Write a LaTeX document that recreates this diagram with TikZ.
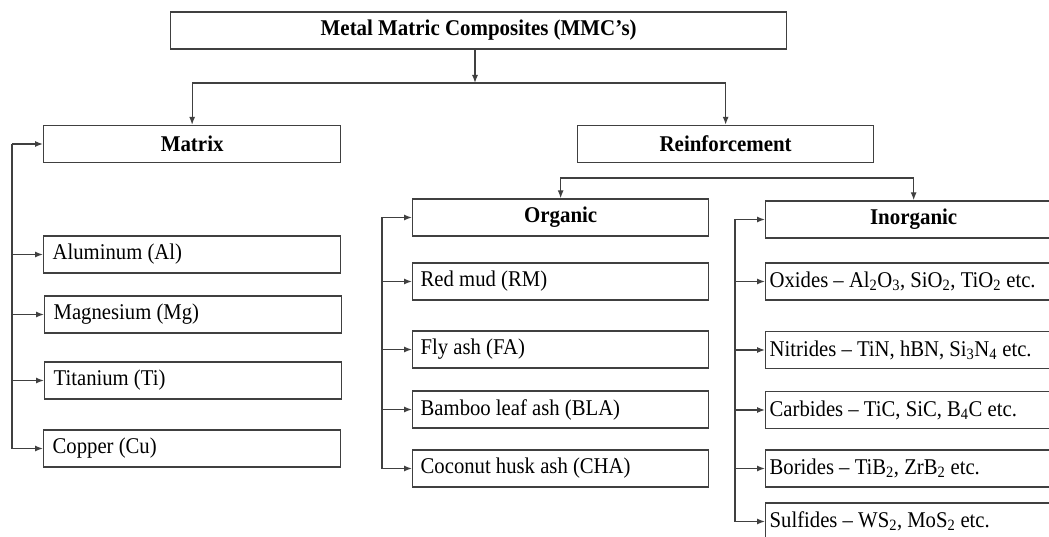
\documentclass[tikz,border=0pt]{standalone}
\usepackage{fontspec}
\setmainfont[FakeStretch=0.92, BoldFeatures={FakeStretch=0.93}]{Liberation Serif}
\usetikzlibrary{arrows.meta}
\begin{document}
\begin{tikzpicture}[x=1pt,y=-1pt,
  every node/.style={font=\fontsize{22.5}{26}\selectfont},
  box/.style={draw=black!75, line width=1.3pt, minimum height=37pt, inner sep=0pt, anchor=west},
  head/.style={box, font=\fontsize{22.5}{26}\selectfont\bfseries, minimum width=296pt},
  mitem/.style={box, minimum width=297pt, text width=279pt, align=flush left},
  oitem/.style={box, minimum width=296pt, text width=280pt, align=flush left},
  iitem/.style={box, minimum width=296pt, text width=288pt, align=flush left},
  ln/.style={draw=black!75, line width=1.3pt},
  arr/.style={ln, -{Latex[length=8pt,width=6pt]}}]
\useasboundingbox (0,0) rectangle (1049,537);
\clip (0,0) rectangle (1049,537);
% headings
\node[head, minimum width=616pt] (top) at (170,30.5) {Metal Matric Composites (MMC’s)};
\node[head, minimum width=297pt] (matrix) at (43,144) {Matrix};
\node[head] (reinf) at (577,144) {Reinforcement};
\node[head] (org) at (412,217.5) {Organic};
\node[head] (inorg) at (765,219.5) {Inorganic};
% matrix items
\node[mitem] (al) at (43,254.5) {Aluminum (Al)};
\node[mitem] (mg) at (44,314.5) {Magnesium (Mg)};
\node[mitem] (ti) at (44,380.5) {Titanium (Ti)};
\node[mitem] (cu) at (43,448.5) {Copper (Cu)};
% organic items
\node[oitem] (rm) at (412,281.5) {Red mud (RM)};
\node[oitem] (fa) at (412,349.5) {Fly ash (FA)};
\node[oitem] (bla) at (412,409.5) {Bamboo leaf ash (BLA)};
\node[oitem] (cha) at (412,468.5) {Coconut husk ash (CHA)};
% inorganic items
\node[iitem] (ox) at (765,281.5) {Oxides – Al\textsubscript{2}O\textsubscript{3}, SiO\textsubscript{2}, TiO\textsubscript{2} etc.};
\node[iitem] (ni) at (765,350) {Nitrides – TiN, hBN, Si\textsubscript{3}N\textsubscript{4} etc.};
\node[iitem] (ca) at (765,410) {Carbides – TiC, SiC, B\textsubscript{4}C etc.};
\node[iitem] (bo) at (765,468.5) {Borides – TiB\textsubscript{2}, ZrB\textsubscript{2} etc.};
\node[iitem] (su) at (765,521.5) {Sulfides – WS\textsubscript{2}, MoS\textsubscript{2} etc.};
% top connectors
\coordinate (tb) at (475,83);
\draw[arr] (top.south -| tb) -- (tb);
\draw[arr] (tb) -| (matrix.north);
\draw[arr] (tb) -| (reinf.north);
\coordinate (rb) at (725,178);
\draw[arr] (rb) -| (org.north);
\draw[arr] (rb) -| (inorg.north);
% left buses
\coordinate (mbus) at (12,0);
\draw[ln] (matrix.west -| mbus) -- (cu.west -| mbus);
\foreach \n in {matrix,al,mg,ti,cu} \draw[arr] (\n.west -| mbus) -- (\n.west);
\coordinate (obus) at (382,0);
\draw[ln] (org.west -| obus) -- (cha.west -| obus);
\foreach \n in {org,rm,fa,bla,cha} \draw[arr] (\n.west -| obus) -- (\n.west);
\coordinate (ibus) at (735,0);
\draw[ln] (inorg.west -| ibus) -- (su.west -| ibus);
\foreach \n in {inorg,ox,ni,ca,bo,su} \draw[arr] (\n.west -| ibus) -- (\n.west);
\end{tikzpicture}
\end{document}
